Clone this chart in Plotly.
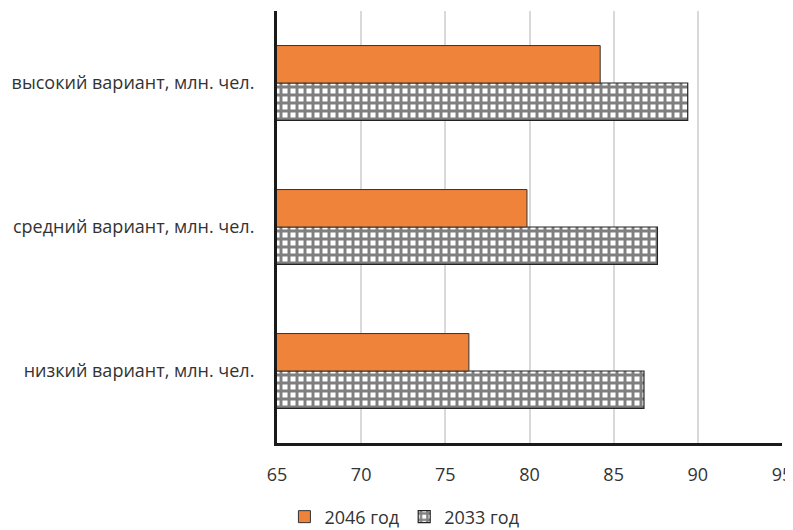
import plotly.graph_objects as go

categories = ["низкий вариант, млн. чел.", "средний вариант, млн. чел.", "высокий вариант, млн. чел."]
values_2046 = [76.4, 79.85, 84.2]
values_2033 = [86.8, 87.6, 89.4]
x_ticks = [65, 70, 75, 80, 85, 90, 95]

font_family = "Open Sans, Liberation Sans, sans-serif"
text_color = "#333333"

fig = go.Figure()
fig.add_trace(go.Bar(
    y=categories, x=values_2033, orientation="h", name="2033 год",
    legendrank=2,
    marker=dict(color="white", line=dict(color="#222222", width=1.2),
                pattern=dict(shape="+", fgcolor="black", bgcolor="white", size=8, solidity=0.6)),
))
fig.add_trace(go.Bar(
    y=categories, x=values_2046, orientation="h", name="2046 год",
    legendrank=1,
    marker=dict(color="#F0833A", line=dict(color="#333333", width=1)),
))

fig.update_layout(
    width=785, height=522,
    margin=dict(l=269, r=11, t=3, b=87),
    barmode="group", bargap=0.48, bargroupgap=0,
    plot_bgcolor="white", paper_bgcolor="white",
    font=dict(family=font_family, size=18, color=text_color),
    legend=dict(orientation="h", xref="container", yref="container",
                x=0.505, xanchor="center", y=0.025, yanchor="middle",
                font=dict(size=18, color=text_color), itemwidth=30,
                traceorder="normal"),
    showlegend=True,
)
fig.update_xaxes(range=[65, 95], tickvals=x_ticks, showgrid=True, gridcolor="#d9d9d9", gridwidth=2,
                 showline=True, linecolor="#1a1a1a", linewidth=3, zeroline=False,
                 ticks="", ticklabelstandoff=13, automargin=False, ticklabeloverflow="allow")
fig.update_yaxes(categoryorder="array", categoryarray=categories, showgrid=False,
                 showline=True, linecolor="#1a1a1a", linewidth=3, ticks="",
                 ticklabelstandoff=16, automargin=False)

fig.write_html("out.html")
